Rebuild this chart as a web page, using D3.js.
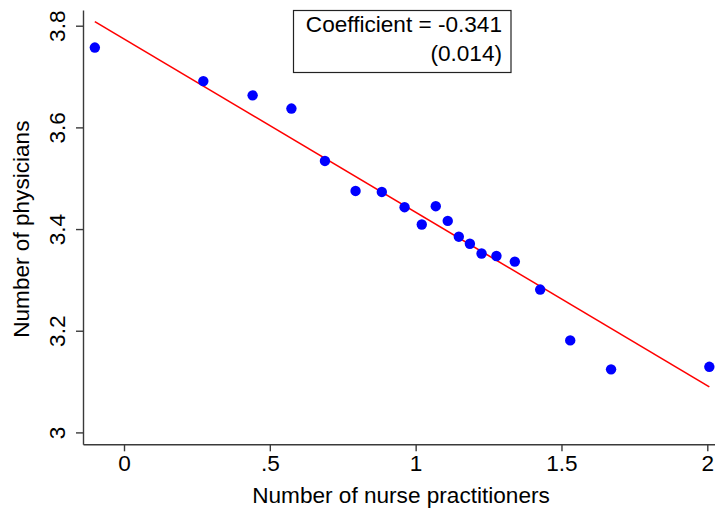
<!DOCTYPE html>
<html>
<head>
<meta charset="utf-8">
<script src="https://cdn.jsdelivr.net/npm/d3@7"></script>
<style>
  html, body { margin: 0; padding: 0; background: #fff; }
  svg { display: block; }
  text { font-family: "Liberation Sans", Arial, sans-serif; fill: #000; }
</style>
</head>
<body>
<svg id="chart" width="715" height="515"></svg>
<script>
// Binned means: nurse practitioners (x) vs. physicians (y)
const npValues = [-0.100, 0.272, 0.441, 0.574, 0.689, 0.794, 0.884, 0.962, 1.021, 1.069,
                  1.110, 1.148, 1.186, 1.226, 1.277, 1.340, 1.427, 1.530, 1.670, 2.007];
const physValues = [3.757, 3.691, 3.663, 3.637, 3.534, 3.475, 3.473, 3.443, 3.409, 3.445,
                    3.416, 3.385, 3.371, 3.352, 3.347, 3.336, 3.281, 3.181, 3.124, 3.129];

// Linear fit
const slope = -0.341;
const intercept = 3.774;
const stdError = 0.014;

const xTicks = [0, 0.5, 1, 1.5, 2];
const xTickLabels = ["0", ".5", "1", "1.5", "2"];
const yTicks = [3, 3.2, 3.4, 3.6, 3.8];
const yTickLabels = ["3", "3.2", "3.4", "3.6", "3.8"];

const xTitle = "Number of nurse practitioners";
const yTitle = "Number of physicians";

const svg = d3.select("#chart");
const plotLeft = 83, plotRight = 715, plotTop = 10, plotBottom = 444.3;

const x = d3.scaleLinear().domain([-0.1406, 2.0264]).range([plotLeft, plotRight]);
const y = d3.scaleLinear().domain([2.9766, 3.8309]).range([plotBottom, plotTop]);

const axisColor = "#3a3a3a";
const fontSize = 22.6;
const fontFamily = "'Liberation Sans', Arial, sans-serif";

// X axis
const xAxis = svg.append("g")
  .attr("transform", `translate(0,${plotBottom})`)
  .call(d3.axisBottom(x).tickValues(xTicks).tickSize(7).tickSizeOuter(0)
    .tickFormat((d, i) => xTickLabels[i]));
xAxis.select(".domain").attr("stroke", axisColor).attr("stroke-width", 1.4);
xAxis.selectAll(".tick line").attr("stroke", axisColor).attr("stroke-width", 1.4);
xAxis.selectAll(".tick text")
  .attr("y", 27).attr("dy", 0)
  .style("font-size", fontSize + "px")
  .style("font-family", fontFamily)
  .attr("fill", "#000");

// Y axis, tick labels turned vertical
const yAxis = svg.append("g")
  .attr("transform", `translate(${plotLeft},0)`)
  .call(d3.axisLeft(y).tickValues(yTicks).tickSize(7).tickSizeOuter(0)
    .tickFormat((d, i) => yTickLabels[i]));
yAxis.select(".domain").attr("stroke", axisColor).attr("stroke-width", 1.4);
yAxis.selectAll(".tick line").attr("stroke", axisColor).attr("stroke-width", 1.4);
yAxis.selectAll(".tick text")
  .attr("x", 0).attr("dy", 0)
  .attr("text-anchor", "middle")
  .attr("transform", "translate(-18,0) rotate(-90)")
  .style("font-size", fontSize + "px")
  .style("font-family", fontFamily)
  .attr("fill", "#000");

// Axis titles
svg.append("text")
  .attr("x", (plotLeft + plotRight) / 2 + 2)
  .attr("y", 503)
  .attr("text-anchor", "middle")
  .style("font-size", fontSize + "px")
  .text(xTitle);

svg.append("text")
  .attr("transform", `translate(29,${(plotTop + plotBottom) / 2 + 2}) rotate(-90)`)
  .attr("text-anchor", "middle")
  .style("font-size", fontSize + "px")
  .text(yTitle);

// Fitted line across the range of the bins
const xMin = d3.min(npValues), xMax = d3.max(npValues);
svg.append("line")
  .attr("x1", x(xMin)).attr("y1", y(intercept + slope * xMin))
  .attr("x2", x(xMax)).attr("y2", y(intercept + slope * xMax))
  .attr("stroke", "#ff0000")
  .attr("stroke-width", 1.6);

// Bin markers
svg.append("g").selectAll("circle")
  .data(npValues.map((v, i) => [v, physValues[i]]))
  .join("circle")
  .attr("cx", d => x(d[0]))
  .attr("cy", d => y(d[1]))
  .attr("r", 5.2)
  .attr("fill", "#0000ff");

// Coefficient box
const box = svg.append("g");
box.append("rect")
  .attr("x", 293.5).attr("y", 10.5)
  .attr("width", 217.5).attr("height", 62)
  .attr("fill", "#fff")
  .attr("stroke", "#222")
  .attr("stroke-width", 1.2);
box.append("text")
  .attr("x", 502).attr("y", 32)
  .attr("text-anchor", "end")
  .style("font-size", fontSize + "px")
  .text(`Coefficient = ${slope.toFixed(3)}`);
box.append("text")
  .attr("x", 502).attr("y", 61)
  .attr("text-anchor", "end")
  .style("font-size", fontSize + "px")
  .text(`(${stdError.toFixed(3)})`);
</script>
</body>
</html>
